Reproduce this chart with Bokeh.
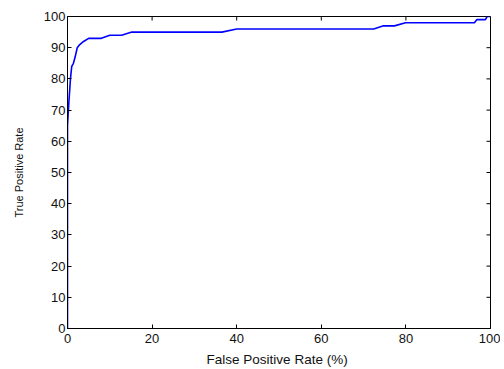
import math
from bokeh.plotting import figure
from bokeh.models import Range1d, FixedTicker
from bokeh.embed import file_html
from bokeh.resources import INLINE

# ROC curve (False Positive Rate %, True Positive Rate)
fpr = [0, 0, 0.3, 0.7, 1.0, 1.4, 1.8, 2.3, 2.9, 3.8, 5.0, 8.0, 10.0, 12.8, 15.2,
       36.5, 40.0, 72.4, 74.7, 77.3, 79.9, 96.2, 96.8, 98.8, 99.2, 100]
tpr = [0, 65, 72, 80, 84, 85, 87, 90, 91, 92, 93, 93, 94, 94, 95,
       95, 96, 96, 97, 97, 98, 98, 99, 99, 100, 100]

x_ticks = [0, 20, 40, 60, 80, 100]
y_ticks = [0, 10, 20, 30, 40, 50, 60, 70, 80, 90, 100]

FONT = "Liberation Sans"

p = figure(width=500, height=369, output_backend="svg", toolbar_location=None,
           x_range=Range1d(0, 100), y_range=Range1d(0, 100),
           min_border_left=67, min_border_right=10, min_border_top=16, min_border_bottom=41)
p.grid.visible = False
p.outline_line_color = "black"
p.outline_line_width = 1
p.background_fill_color = "white"
p.border_fill_color = "white"

p.line(fpr, tpr, line_color="#0000FF", line_width=1.6)

# inward ticks on the top and right edges of the box (MATLAB style)
p.ray(x=x_ticks, y=[p.y_range.end] * len(x_ticks), length=4, length_units="screen",
      angle=-math.pi / 2, line_color="black", line_width=1)
p.ray(x=[p.x_range.end] * len(y_ticks), y=y_ticks, length=4, length_units="screen",
      angle=math.pi, line_color="black", line_width=1)

def style(ax, ticks):
    ax.ticker = FixedTicker(ticks=ticks)
    ax.major_tick_in = 4
    ax.major_tick_out = 0
    ax.minor_tick_in = 0
    ax.minor_tick_out = 0
    ax.axis_line_color = "black"
    ax.major_tick_line_color = "black"
    ax.major_label_text_font = FONT
    ax.major_label_text_color = "#111111"
    ax.major_label_text_font_size = "13px"
    ax.axis_label_text_font = FONT
    ax.axis_label_text_font_style = "normal"
    ax.axis_label_text_color = "#111111"

xa = p.xaxis[0]
style(xa, x_ticks)
xa.axis_label = "False  Positive Rate (%)"
xa.axis_label_text_font_size = "13.5px"
xa.major_label_standoff = 5
xa.axis_label_standoff = 6

ya = p.yaxis[0]
style(ya, y_ticks)
ya.axis_label = "True Positive Rate"
ya.axis_label_text_font_size = "11px"
ya.major_label_standoff = 2
ya.axis_label_standoff = 16

open("out.html", "w").write(file_html(p, INLINE))
